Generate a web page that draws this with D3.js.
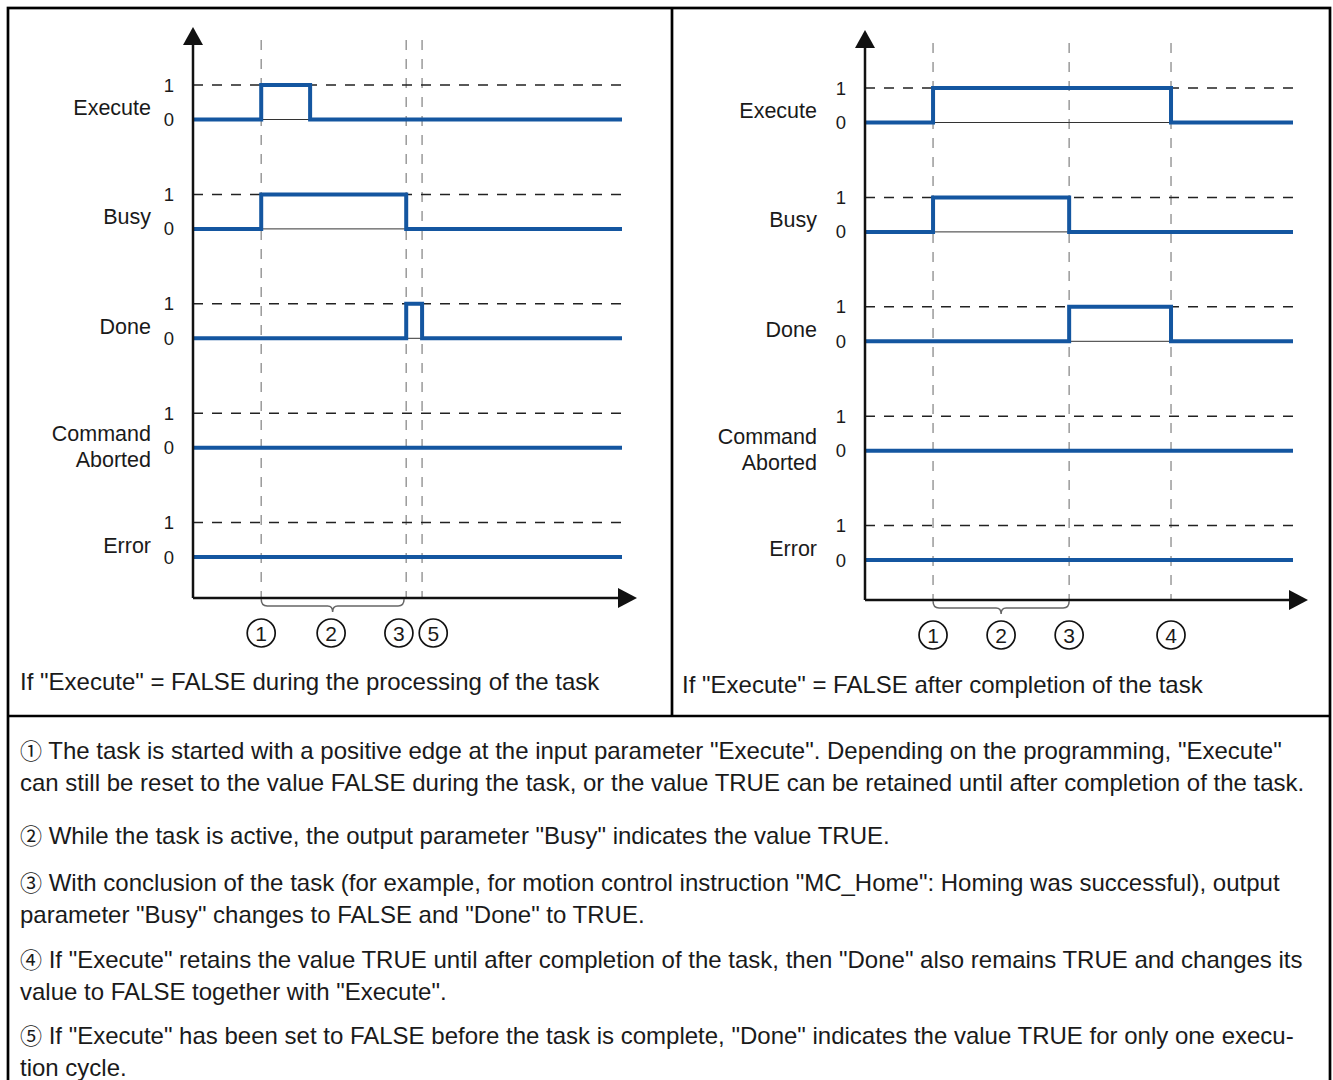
<!DOCTYPE html>
<html>
<head>
<meta charset="utf-8">
<script src="https://cdn.jsdelivr.net/npm/d3@7"></script>
<style>
  body { margin: 0; background: #fff; }
  text { font-family: "Liberation Sans", Arial, sans-serif; fill: #1a1a1a; }
  .circ { font-family: "Noto Sans CJK JP", "DejaVu Sans", sans-serif; }
</style>
</head>
<body>
<div id="chart"></div>
<script>
// signal rows (top to bottom)
let signals = ["Execute", "Busy", "Done", "Command Aborted", "Error"];

// time axis runs 0..100 in both panels, TRUE intervals per signal
let leftHigh = [[15.9, 27.3], [15.9, 49.7], [49.7, 53.4], null, null];
let rightHigh = [[15.9, 71.5], [15.9, 47.7], [47.7, 71.5], null, null];

// vertical marker times and the numbered callouts below the time axis
let leftMarks = [15.9, 49.7, 53.4];
let rightMarks = [15.9, 47.7, 71.5];
let leftCallouts = [["1", 15.9], ["2", 32.2], ["3", 48.0], ["5", 56.0]];
let rightCallouts = [["1", 15.9], ["2", 31.8], ["3", 47.7], ["4", 71.5]];
let leftBrace = [15.9, 49.2];
let rightBrace = [15.9, 47.7];

let captions = ["If \"Execute\" = FALSE during the processing of the task",
  "If \"Execute\" = FALSE after completion of the task"];

let noteMarks = ["\u2460", "\u2461", "\u2462", "\u2463", "\u2464"];
let notes = [
  ["The task is started with a positive edge at the input parameter \"Execute\". Depending on the programming, \"Execute\"",
   "can still be reset to the value FALSE during the task, or the value TRUE can be retained until after completion of the task."],
  ["While the task is active, the output parameter \"Busy\" indicates the value TRUE."],
  ["With conclusion of the task (for example, for motion control instruction \"MC_Home\": Homing was successful), output",
   "parameter \"Busy\" changes to FALSE and \"Done\" to TRUE."],
  ["If \"Execute\" retains the value TRUE until after completion of the task, then \"Done\" also remains TRUE and changes its",
   "value to FALSE together with \"Execute\"."],
  ["If \"Execute\" has been set to FALSE before the task is complete, \"Done\" indicates the value TRUE for only one execu-",
   "tion cycle."]
];

let width = 1333, height = 1080;
let blue = "#1456a0";

let svg = d3.select("#chart").append("svg")
  .attr("width", width)
  .attr("height", height);

svg.append("rect").attr("width", width).attr("height", height).attr("fill", "#fff");

// frame
svg.append("rect")
  .attr("x", 8).attr("y", 8)
  .attr("width", 1322).attr("height", 1090)
  .attr("fill", "none").attr("stroke", "#000").attr("stroke-width", 2.7);
svg.append("line").attr("x1", 672).attr("x2", 672).attr("y1", 8).attr("y2", 716)
  .attr("stroke", "#000").attr("stroke-width", 2.7);
svg.append("line").attr("x1", 8).attr("x2", 1330).attr("y1", 716).attr("y2", 716)
  .attr("stroke", "#000").attr("stroke-width", 2.7);

function drawPanel(opt) {
  let g = svg.append("g");

  let x = d3.scaleLinear().domain([0, 100]).range([opt.x0, opt.x1]);
  let y = d3.scalePoint().domain(signals).range([opt.yTop, opt.yTop + 4 * 109.4]);
  let amp = 34.5;

  // marker verticals
  g.selectAll(".mark").data(opt.marks).enter().append("line")
    .attr("x1", d => x(d)).attr("x2", d => x(d))
    .attr("y1", opt.yTop - 45).attr("y2", opt.axisY)
    .attr("stroke", "#9a9a9a").attr("stroke-width", 1.5)
    .attr("stroke-dasharray", "10,9");

  let rows = g.selectAll(".row").data(signals).enter().append("g");

  // "1" level reference
  rows.append("line")
    .attr("x1", x(0)).attr("x2", x(100))
    .attr("y1", d => y(d)).attr("y2", d => y(d))
    .attr("stroke", "#222").attr("stroke-width", 1.5)
    .attr("stroke-dasharray", "10,9");

  // thin "0" baseline
  rows.append("line")
    .attr("x1", x(0)).attr("x2", x(100))
    .attr("y1", d => y(d) + amp).attr("y2", d => y(d) + amp)
    .attr("stroke", "#333").attr("stroke-width", 1);

  // signal trace
  let line = d3.line().x(d => x(d[0])).y(d => d[1]).curve(d3.curveStepAfter);
  rows.append("path")
    .attr("d", (d, i) => {
      let y1 = y(d), y0 = y(d) + amp;
      let h = opt.high[i];
      let pts = [[0, y0]];
      if (h) pts.push([h[0], y1], [h[1], y0]);
      pts.push([100, y0]);
      return line(pts);
    })
    .attr("fill", "none").attr("stroke", blue).attr("stroke-width", 4);

  // level labels
  rows.append("text").attr("x", x(0) - 24).attr("y", d => y(d) + 6.5)
    .attr("text-anchor", "middle").style("font-size", "18.5px").text("1");
  rows.append("text").attr("x", x(0) - 24).attr("y", d => y(d) + amp + 6.5)
    .attr("text-anchor", "middle").style("font-size", "18.5px").text("0");

  // signal names
  rows.each(function(d) {
    let parts = d.split(" ");
    let lx = x(0) - opt.labelOff;
    let t = d3.select(this).append("text")
      .attr("x", lx)
      .attr("text-anchor", "end")
      .style("font-size", "21.5px");
    if (parts.length == 1) {
      t.attr("y", y(d) + 30).text(d);
    } else {
      parts.forEach((p, k) => {
        t.append("tspan").attr("x", lx).attr("y", y(d) + 28 + k * 26).text(p);
      });
    }
  });

  // axes with arrow heads
  g.append("line").attr("x1", x(0)).attr("x2", x(0))
    .attr("y1", opt.yTop - 45).attr("y2", opt.axisY)
    .attr("stroke", "#111").attr("stroke-width", 2.5);
  g.append("line").attr("x1", x(0)).attr("x2", x(100) + 2)
    .attr("y1", opt.axisY).attr("y2", opt.axisY)
    .attr("stroke", "#111").attr("stroke-width", 2.5);
  let ax = x(0), top = opt.yTop - 58;
  g.append("path")
    .attr("d", `M${ax},${top} L${ax + 10},${top + 18} L${ax - 10},${top + 18} Z`)
    .attr("fill", "#111");
  let tip = x(100) + 15;
  g.append("path")
    .attr("d", `M${tip},${opt.axisY} L${tip - 19},${opt.axisY - 10} L${tip - 19},${opt.axisY + 10} Z`)
    .attr("fill", "#111");

  // brace under the busy period
  let b0 = x(opt.brace[0]), b1 = x(opt.brace[1]), bc = (b0 + b1) / 2, by = opt.axisY + 1;
  g.append("path")
    .attr("d", `M${b0},${by} q0,7 6,7 H${bc - 5} q5,0 5,6 q0,-6 5,-6 H${b1 - 6} q6,0 6,-7`)
    .attr("fill", "none").attr("stroke", "#666").attr("stroke-width", 1.5);

  // numbered callouts
  let c = g.selectAll(".callout").data(opt.callouts).enter().append("g")
    .attr("transform", d => `translate(${x(d[1])},${opt.axisY + 35})`);
  c.append("circle").attr("r", 14).attr("fill", "none")
    .attr("stroke", "#111").attr("stroke-width", 1.7);
  c.append("text").attr("y", 7.5).attr("text-anchor", "middle")
    .style("font-size", "21px").text(d => d[0]);

  g.append("text").attr("x", opt.capX).attr("y", opt.capY)
    .style("font-size", "24px").text(opt.caption);
}

drawPanel({
  x0: 193, x1: 622, yTop: 85, axisY: 598, labelOff: 42,
  high: leftHigh, marks: leftMarks, callouts: leftCallouts, brace: leftBrace,
  caption: captions[0], capX: 20, capY: 690
});
drawPanel({
  x0: 865, x1: 1293, yTop: 88, axisY: 600, labelOff: 48,
  high: rightHigh, marks: rightMarks, callouts: rightCallouts, brace: rightBrace,
  caption: captions[1], capX: 682, capY: 693
});

// explanatory notes
let noteTops = [750, 835, 882, 959, 1035];
let notesG = svg.append("g");
notes.forEach((lines, i) => {
  lines.forEach((s, k) => {
    let t = notesG.append("text")
      .attr("x", 20).attr("y", noteTops[i] + k * 32 + 8.5)
      .style("font-size", "24px");
    if (k == 0) {
      t.append("tspan").attr("class", "circ").style("font-size", "22px").text(noteMarks[i]);
      t.append("tspan").text(" " + s);
    } else {
      t.text(s);
    }
  });
});
</script>
</body>
</html>
